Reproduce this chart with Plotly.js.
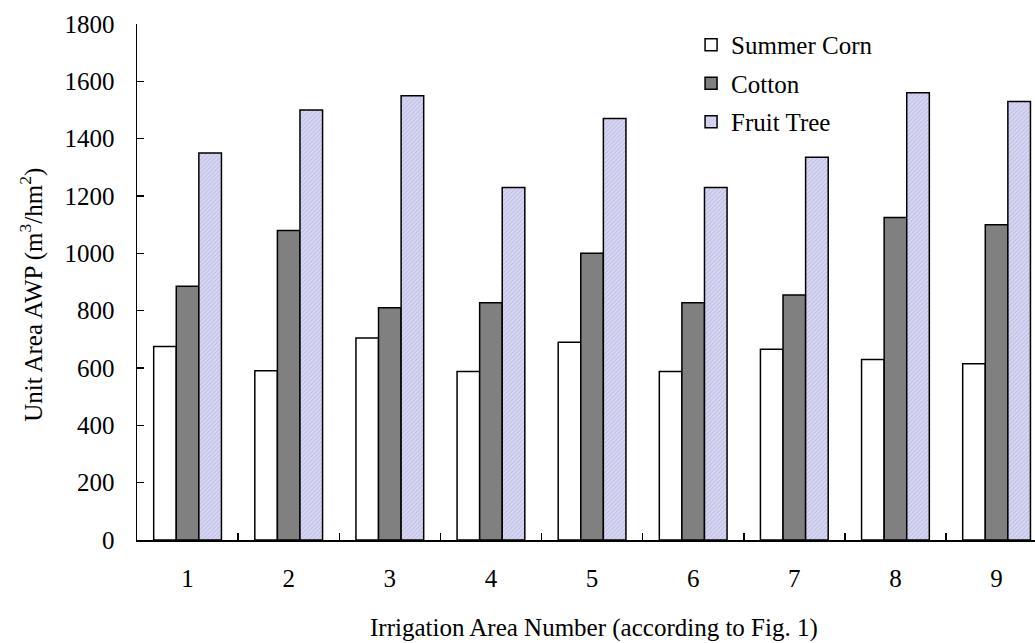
<!DOCTYPE html>
<html>
<head>
<meta charset="utf-8">
<script src="https://cdn.plot.ly/plotly-3.0.1.min.js"></script>
<style>html,body{margin:0;padding:0;background:#fff;}</style>
</head>
<body>
<div id="chart" style="width:1035px;height:643px;"></div>
<script>
const categories = ["1","2","3","4","5","6","7","8","9"];
const summerCorn = [675, 590, 705, 588, 690, 588, 665, 630, 615];
const cotton = [885, 1080, 810, 828, 1000, 828, 855, 1125, 1100];
const fruitTree = [1350, 1500, 1550, 1230, 1470, 1230, 1335, 1560, 1530];
const seriesNames = ["Summer Corn", "Cotton", "Fruit Tree"];
const xTitle = "Irrigation Area Number (according to Fig. 1)";
const yTitle = "Unit Area AWP (m<sup>3</sup>/hm<sup>2</sup>)";

const font = {family: "Liberation Serif", size: 25, color: "#000"};

const traces = [
  {type: "bar", name: seriesNames[0], x: categories, y: summerCorn, legendgroup: "a",
   marker: {color: "#ffffff", line: {color: "#000", width: 1.5}}},
  {type: "bar", name: seriesNames[1], x: categories, y: cotton, legendgroup: "b",
   marker: {color: "#808080", line: {color: "#000", width: 1.5}}},
  {type: "bar", name: seriesNames[2], x: categories, y: fruitTree, legendgroup: "c",
   marker: {color: "#d8d8f4", line: {color: "#000", width: 1.5},
            pattern: {shape: "/", fgcolor: "#b8b8de", bgcolor: "#d8d8f4", size: 3, solidity: 0.3}}}
];

const layout = {
  width: 1035, height: 643,
  margin: {l: 137, r: 0, t: 24, b: 103},
  paper_bgcolor: "#fff", plot_bgcolor: "#fff",
  font: font,
  barmode: "group",
  bargap: 0.33,
  bargroupgap: 0,
  showlegend: true,
  legend: {x: 0.617, y: 1.004, xanchor: "left", yanchor: "top", bgcolor: "rgba(0,0,0,0)",
           font: font, tracegroupgap: 3, traceorder: "grouped"},
  xaxis: {
    type: "category", range: [-0.5, 8.38],
    showline: true, linecolor: "#000", linewidth: 1.5,
    ticks: "inside", tickson: "boundaries", ticklen: 7, tickcolor: "#000", tickwidth: 1.5,
    showgrid: false, zeroline: false,
    ticklabelstandoff: 15,
    tickfont: font
  },
  yaxis: {
    range: [0, 1800], dtick: 200, tick0: 0,
    showline: true, linecolor: "#000", linewidth: 1.5,
    ticks: "inside", ticklen: 7, tickcolor: "#000", tickwidth: 1.5,
    showgrid: false, zeroline: false,
    ticklabelstandoff: 16,
    tickfont: font
  },
  annotations: [
    {text: xTitle, xref: "paper", yref: "paper", x: 0.509, y: -0.171,
     xanchor: "center", yanchor: "middle", showarrow: false, font: font},
    {text: yTitle, xref: "paper", yref: "paper", x: -0.117, y: 0.475, textangle: -90,
     xanchor: "center", yanchor: "middle", showarrow: false, font: font}
  ]
};

Plotly.newPlot("chart", traces, layout, {displayModeBar: false, staticPlot: true});
</script>
</body>
</html>
